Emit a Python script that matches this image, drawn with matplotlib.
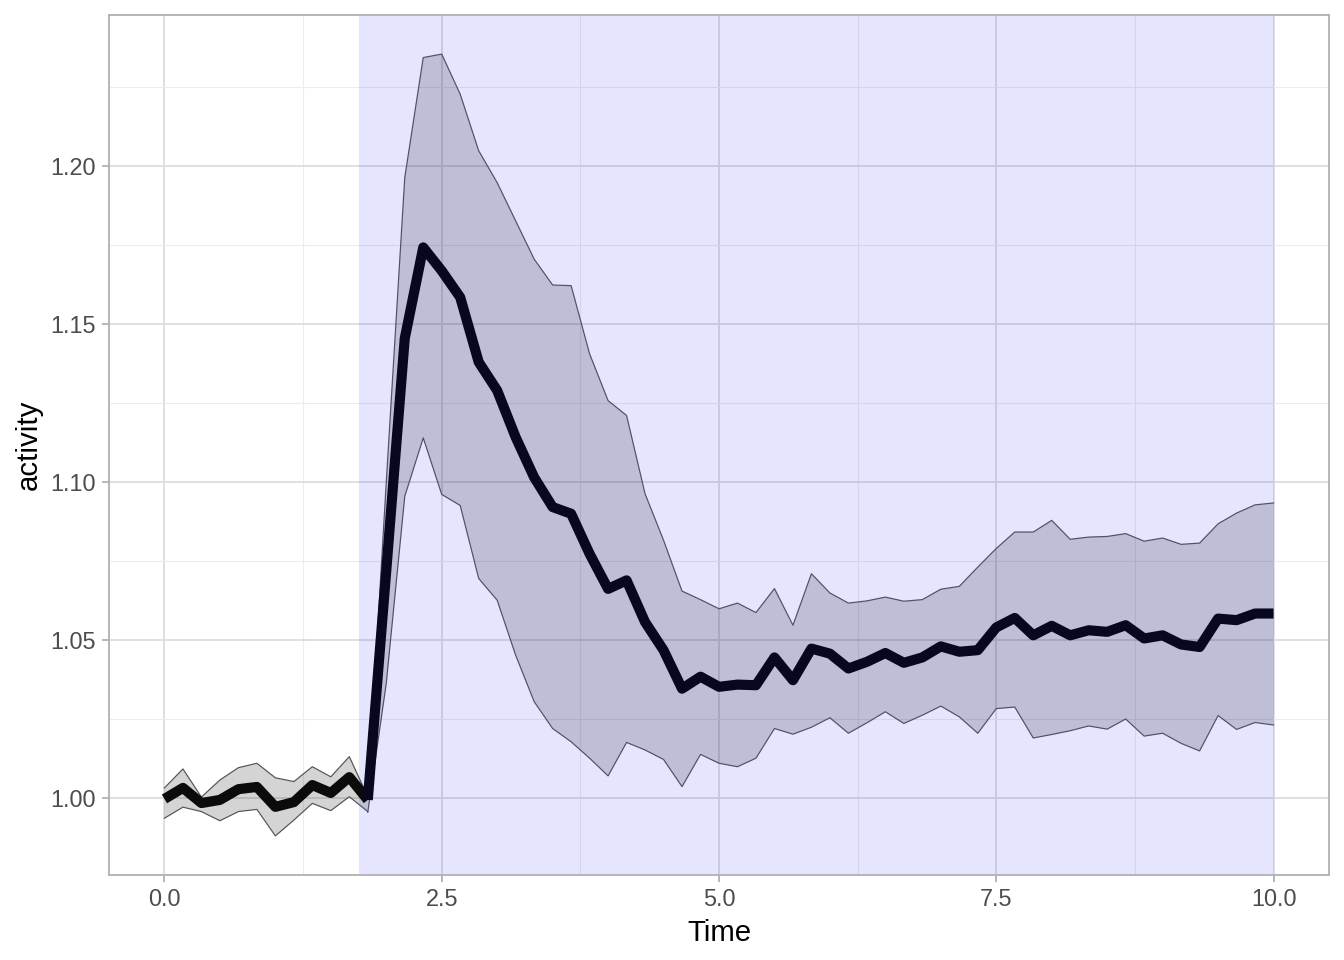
import numpy as np
import matplotlib
matplotlib.use("Agg")
import matplotlib.pyplot as plt
from matplotlib.ticker import FixedLocator

plt.rcParams['font.family'] = ['Liberation Sans', 'DejaVu Sans']

# ---- data -------------------------------------------------------------
time = np.linspace(0, 10, 61)          # sampling grid, step 1/6
pre_idx = slice(0, 12)                  # t = 0 .. 1.833
post_idx = slice(11, 61)                # t = 1.833 .. 10

pre_mean = [0.9997, 1.0032, 0.9984, 0.9994, 1.0028, 1.0035, 0.9972, 0.9987,
            1.0041, 1.0016, 1.0066, 0.9994]
pre_upper = [1.0032, 1.0092, 1.0003, 1.0057, 1.0096, 1.0110, 1.0064, 1.0052,
             1.0099, 1.0067, 1.0131, 1.0004]
pre_lower = [0.9936, 0.9971, 0.9957, 0.9928, 0.9957, 0.9964, 0.9880, 0.9930,
             0.9983, 0.9960, 1.0004, 0.9957]

post_mean = [0.9994, 1.0720, 1.1455, 1.1743, 1.1669, 1.1585, 1.1380, 1.1290,
             1.1142, 1.1015, 1.0921, 1.0900, 1.0773, 1.0662, 1.0689, 1.0557,
             1.0468, 1.0346, 1.0384, 1.0352, 1.0359, 1.0357, 1.0445, 1.0373,
             1.0473, 1.0457, 1.0410, 1.0431, 1.0459, 1.0428, 1.0445, 1.0480,
             1.0463, 1.0468, 1.0540, 1.0570, 1.0515, 1.0545, 1.0515, 1.0531,
             1.0526, 1.0547, 1.0505, 1.0515, 1.0486, 1.0478, 1.0568, 1.0563,
             1.0584, 1.0584]
post_upper = [1.0005, 1.1000, 1.1964, 1.2344, 1.2355, 1.2228, 1.2049, 1.1948,
              1.1827, 1.1706, 1.1624, 1.1622, 1.1406, 1.1258, 1.1211, 1.0963,
              1.0816, 1.0655, 1.0628, 1.0599, 1.0617, 1.0587, 1.0663, 1.0547,
              1.0710, 1.0649, 1.0617, 1.0624, 1.0636, 1.0623, 1.0628, 1.0661,
              1.0670, 1.0731, 1.0790, 1.0842, 1.0842, 1.0879, 1.0819, 1.0826,
              1.0828, 1.0837, 1.0813, 1.0823, 1.0803, 1.0807, 1.0868, 1.0902,
              1.0928, 1.0934]
post_lower = [0.9955, 1.0363, 1.0955, 1.1140, 1.0961, 1.0926, 1.0695, 1.0626,
              1.0452, 1.0305, 1.0220, 1.0178, 1.0126, 1.0070, 1.0176, 1.0152,
              1.0122, 1.0036, 1.0138, 1.0110, 1.0099, 1.0126, 1.0220, 1.0202,
              1.0224, 1.0254, 1.0205, 1.0238, 1.0273, 1.0236, 1.0262, 1.0291,
              1.0257, 1.0205, 1.0283, 1.0288, 1.0190, 1.0201, 1.0213, 1.0228,
              1.0218, 1.0250, 1.0196, 1.0205, 1.0173, 1.0149, 1.0261, 1.0217,
              1.0239, 1.0231]

stim_start, stim_end = 1.75, 10.0

x_ticks = [0.0, 2.5, 5.0, 7.5, 10.0]
x_tick_labels = ["0.0", "2.5", "5.0", "7.5", "10.0"]
y_ticks = [1.00, 1.05, 1.10, 1.15, 1.20]
y_tick_labels = ["1.00", "1.05", "1.10", "1.15", "1.20"]

# ---- figure -----------------------------------------------------------
fig = plt.figure(figsize=(7, 5), dpi=192)
ax = fig.add_axes([109/1344, 1 - 875/960, (1329-109)/1344, (875-15)/960])

t_pre = time[pre_idx]
t_post = time[post_idx]

ax.axvspan(stim_start, stim_end, color='blue', alpha=0.1, lw=0, zorder=1)

# ribbons: fill without outline, then upper / lower outlines only
ax.fill_between(t_pre, pre_lower, pre_upper, facecolor=(0, 0, 0, 0.17),
                edgecolor='none', linewidth=0, zorder=2)
ax.fill_between(t_post, post_lower, post_upper, facecolor=(0, 0, 0.1, 0.17),
                edgecolor='none', linewidth=0, zorder=2)
for t, lo, hi, ec in ((t_pre, pre_lower, pre_upper, '#555555'),
                      (t_post, post_lower, post_upper, '#50506a')):
    ax.plot(t, lo, color=ec, lw=0.45, zorder=2.5)
    ax.plot(t, hi, color=ec, lw=0.45, zorder=2.5)

ax.plot(t_pre, pre_mean, color='#0b0b0b', lw=3.8, solid_joinstyle='round',
        solid_capstyle='butt', zorder=3)
ax.plot(t_post, post_mean, color='#07071f', lw=3.8, solid_joinstyle='round',
        solid_capstyle='butt', zorder=4)

# limits with ggplot-like 5% expansion
all_lo = min(min(pre_lower), min(post_lower))
all_hi = max(max(pre_upper), max(post_upper))
rng = all_hi - all_lo
ax.set_ylim(all_lo - 0.05*rng, all_hi + 0.05*rng)
ax.set_xlim(-0.5, 10.5)

ax.set_xticks(x_ticks)
ax.set_xticklabels(x_tick_labels)
ax.set_yticks(y_ticks)
ax.set_yticklabels(y_tick_labels)
ax.xaxis.set_minor_locator(FixedLocator([1.25, 3.75, 6.25, 8.75]))
ax.yaxis.set_minor_locator(FixedLocator([0.975, 1.025, 1.075, 1.125, 1.175, 1.225]))

ax.set_axisbelow(True)
ax.grid(which='major', color='#dedede', lw=0.7, zorder=0)
ax.grid(which='minor', color='#ececec', lw=0.4, zorder=0)

for sp in ax.spines.values():
    sp.set_color('#b3b3b3')
    sp.set_linewidth(0.7)

ax.tick_params(which='major', length=2.75, width=0.7, color='#b3b3b3',
               labelsize=8.8, labelcolor='#4d4d4d', pad=2.2)
ax.tick_params(which='minor', length=0)

ax.set_xlabel("Time", fontsize=11, color='black', labelpad=2.75)
ax.set_ylabel("activity", fontsize=11, color='black', labelpad=2.75)

fig.savefig("out.png", dpi=192, facecolor='white')
